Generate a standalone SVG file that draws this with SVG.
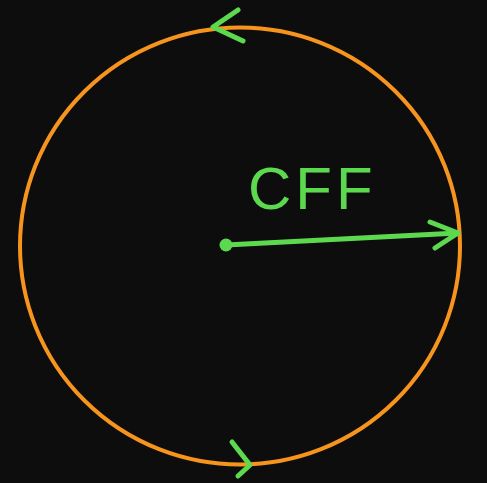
<svg xmlns="http://www.w3.org/2000/svg" width="487" height="483" viewBox="0 0 487 483">
<style>
.orbit{fill:none;stroke:#f7941d;stroke-width:4}
.g{fill:none;stroke:#5cd94f;stroke-width:5;stroke-linecap:round;stroke-linejoin:round}
.lbl{font-family:"Liberation Sans",Arial,sans-serif;font-size:60px;fill:#5cd94f;letter-spacing:4px}
</style>
<rect width="487" height="483" fill="#0d0d0d"/>
<g id="circle">
<ellipse class="orbit" cx="240" cy="246" rx="220" ry="218.5"/>
</g>
<g id="connectors">
<path class="g" d="M238 10 L213 27 L243 41"/>
<path class="g" d="M232 442 L250 465 L238 476"/>
<circle cx="226" cy="245" r="6.5" fill="#5cd94f"/>
<path class="g" d="M226 245 L458 233"/>
<path class="g" d="M430 222 L458 233 L435 248"/>
</g>
<g id="label">
<text class="lbl" x="248" y="209">CFF</text>
</g>
</svg>
